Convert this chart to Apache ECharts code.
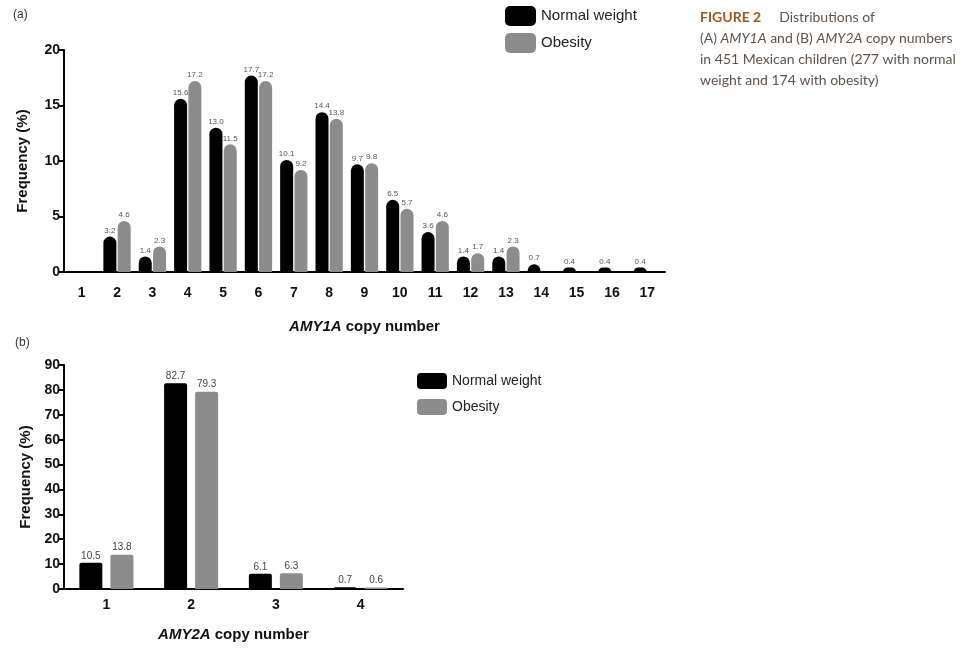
<!DOCTYPE html>
<html>
<head>
<meta charset="utf-8">
<script src="https://cdn.jsdelivr.net/npm/echarts@6/dist/echarts.min.js"></script>
<style>
  html, body { margin: 0; padding: 0; background: #fff; }
  #chart { width: 975px; height: 648px; }
</style>
</head>
<body>
<div id="chart"></div>
<script>
// panel (a): AMY1A copy number
const amy1Categories = ["1", "2", "3", "4", "5", "6", "7", "8", "9", "10", "11", "12", "13", "14", "15", "16", "17"];
const amy1Normal = [null, 3.2, 1.4, 15.6, 13.0, 17.7, 10.1, 14.4, 9.7, 6.5, 3.6, 1.4, 1.4, 0.7, 0.4, 0.4, 0.4];
const amy1Obesity = [null, 4.6, 2.3, 17.2, 11.5, 17.2, 9.2, 13.8, 9.8, 5.7, 4.6, 1.7, 2.3, null, null, null, null];

// panel (b): AMY2A copy number
const amy2Categories = ["1", "2", "3", "4"];
const amy2Normal = [10.5, 82.7, 6.1, 0.7];
const amy2Obesity = [13.8, 79.3, 6.3, 0.6];

const seriesNames = ["Normal weight", "Obesity"];
const BLACK = "#000000";
const GREY = "#8c8c8c";
const FONT = "Liberation Sans, Arial, sans-serif";

const fmt = (p) => (p.value == null ? "" : Number(p.value).toFixed(1));

function xAxisCfg(gridIndex, cats, nameRich, labelMargin, nameGap) {
  return {
    type: "category",
    gridIndex: gridIndex,
    data: cats,
    axisLine: { lineStyle: { color: "#000", width: 2 } },
    axisTick: { alignWithLabel: true, length: 5, lineStyle: { color: "#000", width: 2 } },
    axisLabel: { color: "#111", fontSize: 14, fontWeight: "bold", fontFamily: FONT, margin: labelMargin },
    name: nameRich,
    nameLocation: "middle",
    nameGap: nameGap,
    nameTextStyle: {
      rich: {
        i: { fontSize: 15, fontWeight: "bold", fontStyle: "italic", color: "#111", fontFamily: FONT },
        b: { fontSize: 15, fontWeight: "bold", color: "#111", fontFamily: FONT }
      }
    }
  };
}

function yAxisCfg(gridIndex, max, interval, nameGap) {
  return {
    type: "value",
    gridIndex: gridIndex,
    min: 0,
    max: max,
    interval: interval,
    splitLine: { show: false },
    axisLine: { show: true, lineStyle: { color: "#000", width: 2 } },
    axisTick: { show: true, length: 5, lineStyle: { color: "#000", width: 2 } },
    axisLabel: { color: "#111", fontSize: 14, fontWeight: "bold", fontFamily: FONT, margin: 4 },
    name: "Frequency (%)",
    nameLocation: "middle",
    nameGap: nameGap,
    nameTextStyle: { fontSize: 15, fontWeight: "bold", color: "#111", fontFamily: FONT }
  };
}

const chart = echarts.init(document.getElementById("chart"), null, { renderer: "canvas" });

const option = {
  animation: false,
  backgroundColor: "#fff",
  grid: [
    { left: 64, top: 50, width: 601, height: 222 },
    { left: 64, top: 365, width: 339, height: 224 }
  ],
  legend: [
    {
      data: seriesNames,
      orient: "vertical",
      left: 500,
      top: 1,
      itemWidth: 31,
      itemHeight: 20,
      itemGap: 7,
      icon: "roundRect",
      textStyle: { fontSize: 15, color: "#222", fontFamily: FONT }
    },
    {
      data: seriesNames,
      orient: "vertical",
      left: 412,
      top: 368,
      itemWidth: 30,
      itemHeight: 16,
      itemGap: 10,
      icon: "roundRect",
      textStyle: { fontSize: 14, color: "#222", fontFamily: FONT }
    }
  ],
  xAxis: [
    xAxisCfg(0, amy1Categories, "{i|AMY1A}{b| copy number}", 14, 47),
    xAxisCfg(1, amy2Categories, "{i|AMY2A}{b| copy number}", 9, 38)
  ],
  yAxis: [
    yAxisCfg(0, 20, 5, 34),
    yAxisCfg(1, 90, 10, 31)
  ],
  graphic: [
    { type: "text", left: 13, top: 9, style: { text: "(a)", fontSize: 12, fill: "#333", fontFamily: FONT } },
    { type: "text", left: 15, top: 337, style: { text: "(b)", fontSize: 12, fill: "#333", fontFamily: FONT } },
    {
      type: "text",
      left: 700,
      top: 7,
      style: {
        text: "{f|FIGURE 2}{t|     Distributions of}\n{t|(A) }{i|AMY1A}{t| and (B) }{i|AMY2A}{t| copy numbers}\n{t|in 451 Mexican children (277 with normal}\n{t|weight and 174 with obesity)}",
        lineHeight: 21,
        rich: {
          f: { fontSize: 14, fontWeight: "bold", fill: "#9a5a1e", fontFamily: "Lato", lineHeight: 21 },
          t: { fontSize: 14, fill: "#5e534b", fontFamily: "Lato", lineHeight: 21 },
          i: { fontSize: 14, fontStyle: "italic", fill: "#5e534b", fontFamily: "Lato", lineHeight: 21 }
        }
      }
    }
  ],
  series: [
    {
      name: seriesNames[0],
      type: "bar",
      xAxisIndex: 0,
      yAxisIndex: 0,
      data: amy1Normal,
      barWidth: 13,
      barGap: "10%",
      itemStyle: { color: BLACK, borderRadius: [7, 7, 0, 0] },
      label: { show: true, position: "top", distance: 2, formatter: fmt, fontSize: 8, color: "#555", fontFamily: FONT }
    },
    {
      name: seriesNames[1],
      type: "bar",
      xAxisIndex: 0,
      yAxisIndex: 0,
      data: amy1Obesity,
      barWidth: 13,
      barGap: "10%",
      itemStyle: { color: GREY, borderRadius: [7, 7, 0, 0] },
      label: { show: true, position: "top", distance: 2, formatter: fmt, fontSize: 8, color: "#555", fontFamily: FONT }
    },
    {
      name: seriesNames[0],
      type: "bar",
      xAxisIndex: 1,
      yAxisIndex: 1,
      data: amy2Normal,
      barWidth: 23,
      barGap: "35%",
      itemStyle: { color: BLACK, borderRadius: [2, 2, 0, 0] },
      label: { show: true, position: "top", distance: 2, formatter: fmt, fontSize: 10, color: "#444", fontFamily: FONT }
    },
    {
      name: seriesNames[1],
      type: "bar",
      xAxisIndex: 1,
      yAxisIndex: 1,
      data: amy2Obesity,
      barWidth: 23,
      barGap: "35%",
      itemStyle: { color: GREY, borderRadius: [2, 2, 0, 0] },
      label: { show: true, position: "top", distance: 2, formatter: fmt, fontSize: 10, color: "#444", fontFamily: FONT }
    }
  ]
};

chart.setOption(option);
</script>
</body>
</html>
